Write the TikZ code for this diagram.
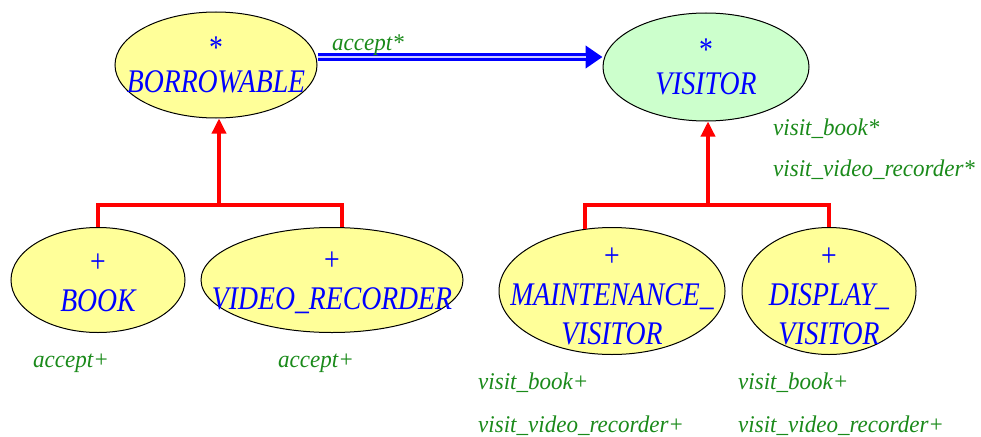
\documentclass[tikz,border=0pt]{standalone}
\usepackage{fontspec}
\newfontfamily\labfont[FakeStretch=0.84]{Liberation Serif}
\newfontfamily\featfont[FakeStretch=0.96]{Liberation Serif}
\usetikzlibrary{shapes.geometric,arrows.meta}
\definecolor{ylw}{HTML}{FFFF99}
\definecolor{lgrn}{HTML}{CCFFCC}
\definecolor{fgrn}{HTML}{1A8A1A}
\begin{document}
\begin{tikzpicture}[x=1pt,y=-1pt,
  cls/.style={ellipse, draw=black, line width=1pt, fill=ylw, inner sep=0pt},
  lbl/.style={align=center, inner sep=0pt, text=blue, font=\labfont\itshape\fontsize{33}{39}\selectfont},
  feat/.style={anchor=base west, inner sep=0pt, text=fgrn, font=\featfont\itshape\fontsize{24}{28}\selectfont},
  inh/.style={red, line width=3.4pt},
  inharrow/.style={inh, -{Triangle[length=15pt,width=14pt]}},
]
\useasboundingbox (0,0) rectangle (981,436);

% nodes
\node[cls, minimum width=202pt, minimum height=106pt,
  label={[lbl]center:{\textup{*}\\[-5pt]BORROWABLE}}] (borrow) at (216,65) {};
\node[cls, fill=lgrn, minimum width=206pt, minimum height=108pt,
  label={[lbl]center:{\textup{*}\\[-5pt]VISITOR}}] (visitor) at (706,67) {};
\node[cls, minimum width=174pt, minimum height=105pt,
  label={[lbl,yshift=-3pt]center:{\textup{+}\\BOOK}}] (book) at (98,280) {};
\node[cls, minimum width=262pt, minimum height=105pt,
  label={[lbl,yshift=-3pt]center:{\textup{+}\\VIDEO\_RECORDER}}] (video) at (332,280) {};
\node[cls, minimum width=226pt, minimum height=127pt,
  label={[lbl,yshift=-5pt]center:{\textup{+}\\MAINTENANCE\_\\VISITOR}}] (maint) at (612,291) {};
\node[cls, minimum width=174pt, minimum height=127pt,
  label={[lbl,yshift=-5pt]center:{\textup{+}\\DISPLAY\_\\VISITOR}}] (disp) at (829,291) {};

% client arrow
\coordinate (cs) at ([yshift=8pt]borrow.east);
\coordinate (ce) at (cs -| visitor.west);
\draw[blue, line width=8pt, -{Triangle[length=17pt,width=22pt]}] (cs) -- (ce);
\draw[blue!20, line width=1.8pt, shorten >=17pt] (cs) -- (ce);
\node[feat] (acc) at (332,50) {accept*};

% inheritance left
\coordinate (jl) at (219,205);
\draw[inharrow] (jl) -- (jl |- borrow.south);
\draw[inh] (book.north) |- (jl) -| ([xshift=10pt]video.north);

% inheritance right
\coordinate (jr) at (708,205);
\draw[inharrow] (jr) -- (jr |- visitor.south);
\draw[inh] ([xshift=-27pt,yshift=-2pt]maint.north) |- (jr) -| (disp.north);

% features
\node[feat] (f1) at (773,135) {visit\_book*};
\node[feat] (f2) at (773,176) {visit\_video\_recorder*};
\node[feat] (f3) at (33,367) {accept+};
\node[feat] (f4) at (278,367) {accept+};
\node[feat] (f5) at (478,389) {visit\_book+};
\node[feat] (f6) at (478,432) {visit\_video\_recorder+};
\node[feat] (f7) at (738,389) {visit\_book+};
\node[feat] (f8) at (738,432) {visit\_video\_recorder+};
\end{tikzpicture}
\end{document}
